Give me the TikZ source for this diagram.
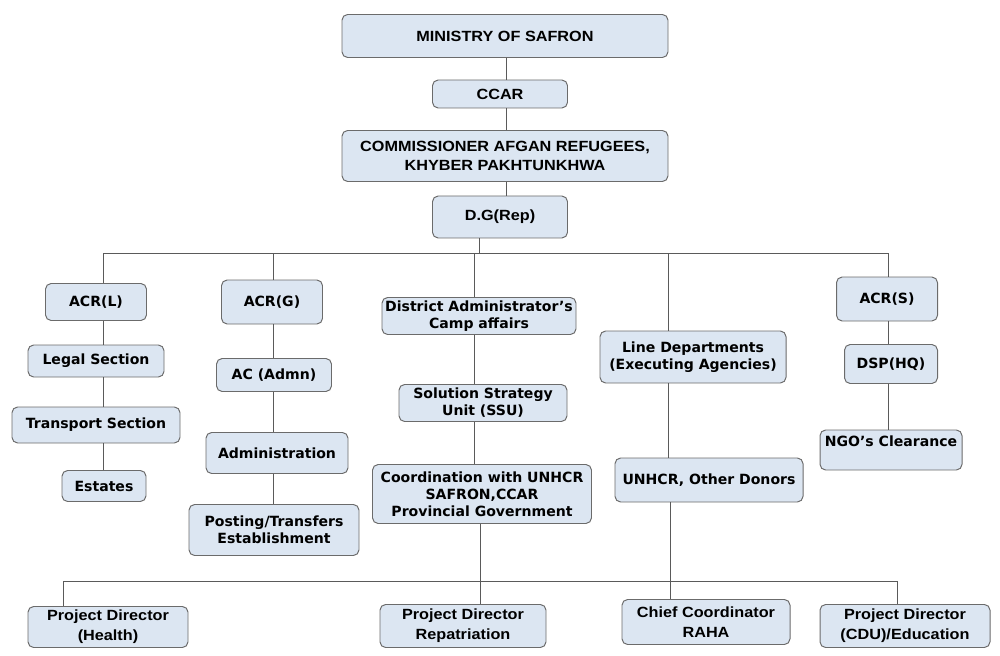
\documentclass[tikz,border=0pt]{standalone}
\usepackage{fontspec}
\newfontfamily\headfont[FakeStretch=1.1]{Liberation Sans}
\newfontfamily\bodyfont{DejaVu Sans}
\definecolor{boxfill}{HTML}{DCE6F2}
\definecolor{boxline}{HTML}{6B6B6B}
\definecolor{wire}{HTML}{5A5A5A}
\tikzset{
  box/.style={draw=boxline, fill=boxfill, rounded corners=4pt, line width=0.7pt, align=center, inner sep=0pt, text=black},
  head/.style={box, font=\headfont\bfseries\fontsize{10.5}{14}\selectfont},
  unit/.style={box, font=\bodyfont\bfseries\fontsize{10}{12}\selectfont},
  size/.style 2 args={minimum width=#1*0.025cm, minimum height=#2*0.025cm},
  link/.style={draw=wire, line width=0.6pt}
}
\begin{document}
\begin{tikzpicture}[x=0.025cm, y=-0.025cm]
        \useasboundingbox (0,0) rectangle (1000,656);

        % top chain
        \node[head, size={326}{43}] (ministry) at (505,36) {MINISTRY OF SAFRON};
        \node[head, size={135}{28}] (ccar) at (500,94) {CCAR};
        \node[head, size={326}{51}] (comm) at (505,156) {COMMISSIONER AFGAN REFUGEES,\\KHYBER PAKHTUNKHWA};
        \node[head, size={135}{42}] (dg) at (500,217) {D.G(Rep)};

        % columns
        \node[unit, size={101}{37}] (acrl) at (96,302) {ACR(L)};
        \node[unit, size={136}{32}] (legal) at (96,361) {Legal Section};
        \node[unit, size={168}{36}] (transport) at (96,425) {Transport Section};
        \node[unit, size={84}{31}] (estates) at (104,486) {Estates};

        \node[unit, size={101}{44}] (acrg) at (272,302) {ACR(G)};
        \node[unit, size={115}{33}] (acadmn) at (274,375) {AC (Admn)};
        \node[unit, size={142}{41}] (admin) at (277,453) {Administration};
        \node[unit, size={170}{51}] (posting) at (274,530) {Posting/Transfers\\Establishment};

        \node[unit, size={194}{37}] (district) at (479,316) {District Administrator’s\\Camp affairs};
        \node[unit, size={168}{37}] (ssu) at (483,403) {Solution Strategy\\Unit (SSU)};
        \node[unit, size={219}{59}] (coord) at (482,494) {Coordination with UNHCR\\SAFRON,CCAR\\Provincial Government};

        \node[unit, size={186}{52}] (linedept) at (693,357) {Line Departments\\(Executing Agencies)};
        \node[unit, size={188}{44}] (unhcr) at (709,480) {UNHCR, Other Donors};

        \node[unit, size={101}{44}] (acrs) at (887,299) {ACR(S)};
        \node[unit, size={93}{39}] (dsp) at (891,364) {DSP(HQ)};
        \node[unit, size={142}{40}] (ngo) at (891,450) {NGO’s Clearance\\\mbox{}};

        % bottom row
        \node[head, size={160}{41}] (health) at (108,627) {Project Director\\(Health)};
        \node[head, size={166}{43}] (repat) at (463,626) {Project Director\\Repatriation};
        \node[head, size={168}{45}] (raha) at (706,622) {Chief Coordinator\\RAHA};
        \node[head, size={170}{43}] (cdu) at (905,626) {Project Director\\(CDU)/Education};

        % top links
        \coordinate (ctop) at (506,0);
        \draw[link] (ctop |- ministry.south) -- (ctop |- ccar.north);
        \draw[link] (ctop |- ccar.south) -- (ctop |- comm.north);
        \draw[link] (ctop |- comm.south) -- (ctop |- dg.north);

        % bus under D.G
        \coordinate (cl) at (103,253);
        \coordinate (cg) at (273,253);
        \coordinate (cd) at (474,253);
        \coordinate (ce) at (668,253);
        \coordinate (cs) at (888,253);
        \coordinate (dgdrop) at (479,253);
        \draw[link] (dgdrop |- dg.south) -- (dgdrop);
        \draw[link] (cl) -- (cs);
        \foreach \c/\b in {cl/acrl, cg/acrg, cd/district, ce/linedept, cs/acrs}
            \draw[link] (\c) -- (\c |- \b.north);

        \foreach \c/\a/\b in {cl/acrl/legal, cl/legal/transport, cl/transport/estates,
                              cg/acrg/acadmn, cg/acadmn/admin, cg/admin/posting,
                              cd/district/ssu, cd/ssu/coord,
                              ce/linedept/unhcr, cs/acrs/dsp, cs/dsp/ngo}
            \draw[link] (\c |- \a.south) -- (\c |- \b.north);

        % bottom bus
        \coordinate (bl) at (63,581);
        \coordinate (br) at (897,581);
        \coordinate (cr) at (480,0);
        \coordinate (cu) at (670,0);
        \draw[link] (bl) -- (br);
        \draw[link] (bl) -- (bl |- health.north);
        \draw[link] (br) -- (br |- cdu.north);
        \draw[link] (cr |- coord.south) -- (cr |- repat.north);
        \draw[link] (cu |- unhcr.south) -- (cu |- raha.north);
    \end{tikzpicture}
\end{document}
